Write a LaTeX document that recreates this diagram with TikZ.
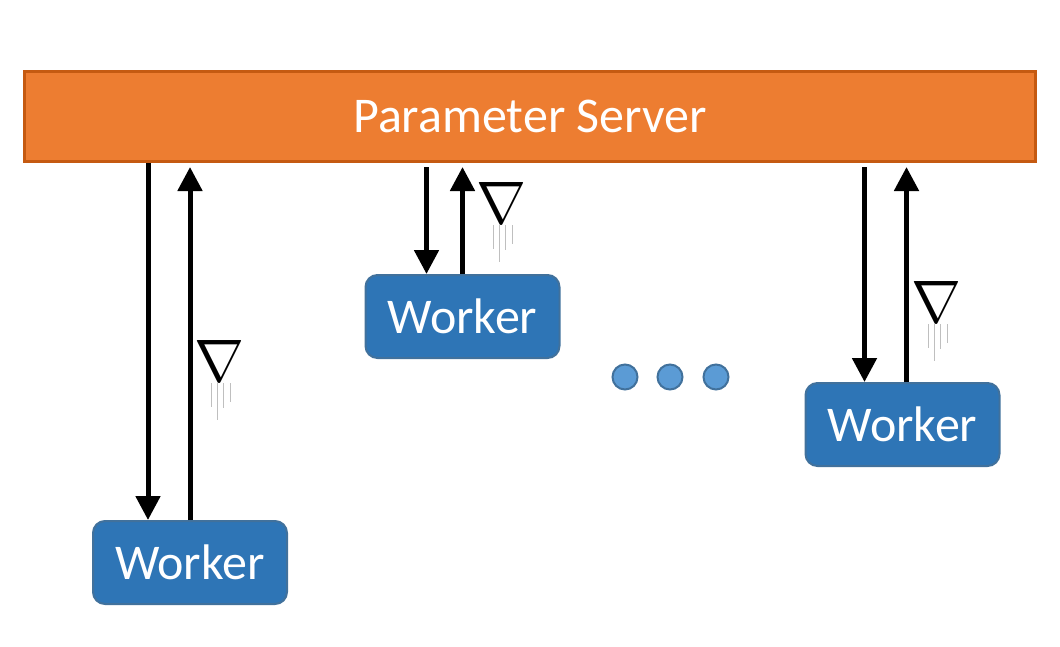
\documentclass[tikz,border=0pt]{standalone}
\usepackage{fontspec}
\setmainfont{Carlito}
\usetikzlibrary{arrows.meta}
\definecolor{psorange}{HTML}{ED7D31}
\definecolor{psedge}{HTML}{C55A11}
\definecolor{wkblue}{HTML}{2E75B6}
\definecolor{wkedge}{HTML}{41719C}
\definecolor{dotblue}{HTML}{5B9BD5}
\begin{document}
\begin{tikzpicture}[x=1pt, y=-1pt,
    server/.style = {draw=psedge, line width=3pt, fill=psorange,
      minimum width=1011pt, minimum height=90pt, text=white,
      font=\fontsize{50}{50}\selectfont},
    worker/.style = {draw=wkedge, line width=2pt, fill=wkblue,
      rounded corners=12pt, minimum width=194pt, minimum height=83pt,
      text=white, font=\fontsize{50}{50}\selectfont},
    flow/.style = {line width=5pt, -{Triangle[width=24pt,length=24pt]}},
    grad/.style = {inner sep=0pt, scale=6},
    trail/.style = {draw=black!25, line width=1pt},
    dot/.style = {circle, draw=wkedge, line width=2pt, fill=dotblue,
      minimum size=25pt, inner sep=0pt}]
  \useasboundingbox (0,0) rectangle (1060,646);
  \node[server] (ps) at (530,116.5) {Parameter Server};
  \node[worker] (w1) at (190,562.5) {Worker};
  \node[worker] (w2) at (462.5,316.5) {Worker};
  \node[worker] (w3) at (902.5,424.5) {Worker};
  % pull and push
  \draw[flow] ([xshift=-42pt]w1.north |- ps.south) -- ([xshift=-42pt]w1.north);
  \draw[flow] (w1.north) -- ([yshift=-4pt]w1.north |- ps.south);
  \draw[flow] ([xshift=-36pt,yshift=-4pt]w2.north |- ps.south) -- ([xshift=-36pt]w2.north);
  \draw[flow] (w2.north) -- ([yshift=-4pt]w2.north |- ps.south);
  \draw[flow] ([xshift=-38pt,yshift=-4pt]w3.north |- ps.south) -- ([xshift=-38pt]w3.north);
  \draw[flow] ([xshift=4pt]w3.north) -- ([xshift=4pt,yshift=-4pt]w3.north |- ps.south);
  % gradients
  \node[grad] (g1) at (219,361) {$\nabla$};
  \node[grad] (g2) at (501,203) {$\nabla$};
  \node[grad] (g3) at (936,302) {$\nabla$};
  \foreach \g in {g1,g2,g3}
    \foreach \dx/\len in {-8/24,-2/37,4/25,11/19}
      \draw[trail] ([shift={(\dx pt,-22pt)}]\g.center) -- ++(0pt,-\len pt);
  % more workers
  \node[dot] (d1) at (625,377) {};
  \node[dot] (d2) at (670,377) {};
  \node[dot] (d3) at (716,377) {};
\end{tikzpicture}
\end{document}
